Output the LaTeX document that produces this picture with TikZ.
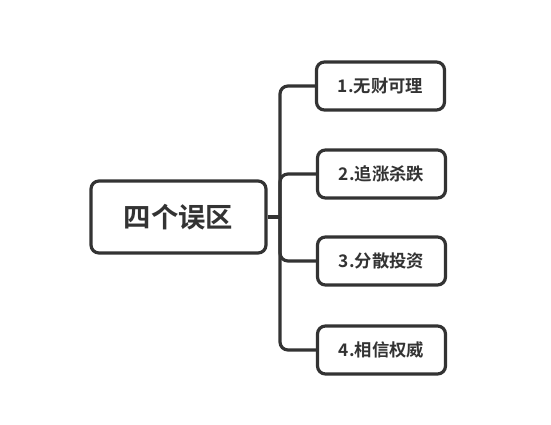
\documentclass[tikz,border=0pt]{standalone}
\usepackage{fontspec}
\newfontfamily\cjk{Noto Sans CJK SC Bold}
\definecolor{ink}{HTML}{333333}
\begin{document}
\begin{tikzpicture}[x=0.75pt,y=-0.75pt,
  box/.style={draw=ink,line width=2.4pt,rounded corners=6pt,fill=white,text=ink,font=\cjk},
  mainbox/.style={box,minimum width=175*0.75pt,minimum height=72*0.75pt,font=\cjk\fontsize{20.5pt}{24pt}\selectfont},
  leafbox/.style={box,minimum width=128*0.75pt,minimum height=48*0.75pt,font=\cjk\fontsize{13pt}{16pt}\selectfont},
  link/.style={draw=ink,line width=2.4pt,rounded corners=6pt}]
\useasboundingbox[fill=white] (0,0) rectangle (551,425);
\node[mainbox] (c) at (178.5,217) {四个误区};
\node[leafbox] (b1) at (380.5,86) {1.无财可理};
\node[leafbox] (b2) at (381.5,174) {2.追涨杀跌};
\node[leafbox] (b3) at (381.5,261) {3.分散投资};
\node[leafbox] (b4) at (381.5,350) {4.相信权威};
\coordinate (j) at (280,217);
\draw[link] (c.east) -- (j);
\draw[link] (j) |- (b1.west);
\draw[link] (j) |- (b2.west);
\draw[link] (j) |- (b3.west);
\draw[link] (j) |- (b4.west);
\end{tikzpicture}
\end{document}
